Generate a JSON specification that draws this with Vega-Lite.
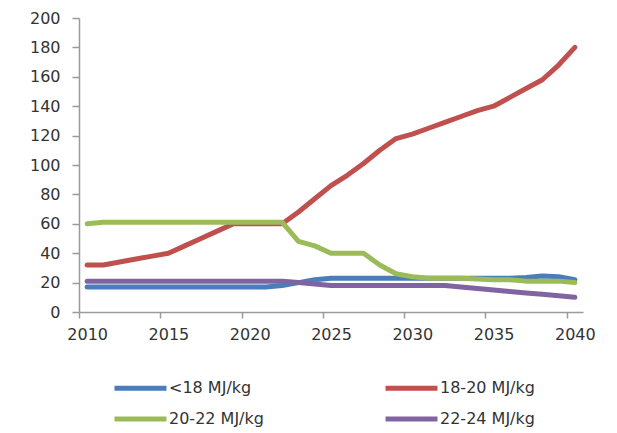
{
  "$schema": "https://vega.github.io/schema/vega-lite/v6.json",
  "autosize": "none",
  "width": 504,
  "height": 294,
  "padding": {"left": 79, "top": 18, "right": 34, "bottom": 121},
  "background": "white",
  "config": {
    "view": {"stroke": null},
    "font": "DejaVu Sans",
    "axis": {"labelFont": "DejaVu Sans", "labelFontSize": 16, "labelColor": "#333333", "domainColor": "#9a9a9a", "tickColor": "#9a9a9a", "domainWidth": 1.5, "tickWidth": 1.5, "grid": false, "title": null}
  },
  "data": {"values": [
    {"year": 2010, "s": "<18 MJ/kg", "v": 17}, {"year": 2011, "s": "<18 MJ/kg", "v": 17}, {"year": 2012, "s": "<18 MJ/kg", "v": 17}, {"year": 2013, "s": "<18 MJ/kg", "v": 17}, {"year": 2014, "s": "<18 MJ/kg", "v": 17}, {"year": 2015, "s": "<18 MJ/kg", "v": 17}, {"year": 2016, "s": "<18 MJ/kg", "v": 17}, {"year": 2017, "s": "<18 MJ/kg", "v": 17}, {"year": 2018, "s": "<18 MJ/kg", "v": 17}, {"year": 2019, "s": "<18 MJ/kg", "v": 17}, {"year": 2020, "s": "<18 MJ/kg", "v": 17}, {"year": 2021, "s": "<18 MJ/kg", "v": 17}, {"year": 2022, "s": "<18 MJ/kg", "v": 18}, {"year": 2023, "s": "<18 MJ/kg", "v": 20}, {"year": 2024, "s": "<18 MJ/kg", "v": 22}, {"year": 2025, "s": "<18 MJ/kg", "v": 23}, {"year": 2026, "s": "<18 MJ/kg", "v": 23}, {"year": 2027, "s": "<18 MJ/kg", "v": 23}, {"year": 2028, "s": "<18 MJ/kg", "v": 23}, {"year": 2029, "s": "<18 MJ/kg", "v": 23}, {"year": 2030, "s": "<18 MJ/kg", "v": 23}, {"year": 2031, "s": "<18 MJ/kg", "v": 23}, {"year": 2032, "s": "<18 MJ/kg", "v": 23}, {"year": 2033, "s": "<18 MJ/kg", "v": 23}, {"year": 2034, "s": "<18 MJ/kg", "v": 23}, {"year": 2035, "s": "<18 MJ/kg", "v": 23}, {"year": 2036, "s": "<18 MJ/kg", "v": 23}, {"year": 2037, "s": "<18 MJ/kg", "v": 23.5}, {"year": 2038, "s": "<18 MJ/kg", "v": 24.5}, {"year": 2039, "s": "<18 MJ/kg", "v": 24}, {"year": 2040, "s": "<18 MJ/kg", "v": 22},
    {"year": 2010, "s": "18-20 MJ/kg", "v": 32}, {"year": 2011, "s": "18-20 MJ/kg", "v": 32}, {"year": 2012, "s": "18-20 MJ/kg", "v": 34}, {"year": 2013, "s": "18-20 MJ/kg", "v": 36}, {"year": 2014, "s": "18-20 MJ/kg", "v": 38}, {"year": 2015, "s": "18-20 MJ/kg", "v": 40}, {"year": 2016, "s": "18-20 MJ/kg", "v": 45}, {"year": 2017, "s": "18-20 MJ/kg", "v": 50}, {"year": 2018, "s": "18-20 MJ/kg", "v": 55}, {"year": 2019, "s": "18-20 MJ/kg", "v": 60}, {"year": 2020, "s": "18-20 MJ/kg", "v": 60}, {"year": 2021, "s": "18-20 MJ/kg", "v": 60}, {"year": 2022, "s": "18-20 MJ/kg", "v": 60}, {"year": 2023, "s": "18-20 MJ/kg", "v": 68}, {"year": 2024, "s": "18-20 MJ/kg", "v": 77}, {"year": 2025, "s": "18-20 MJ/kg", "v": 86}, {"year": 2026, "s": "18-20 MJ/kg", "v": 93}, {"year": 2027, "s": "18-20 MJ/kg", "v": 101}, {"year": 2028, "s": "18-20 MJ/kg", "v": 110}, {"year": 2029, "s": "18-20 MJ/kg", "v": 118}, {"year": 2030, "s": "18-20 MJ/kg", "v": 121}, {"year": 2031, "s": "18-20 MJ/kg", "v": 125}, {"year": 2032, "s": "18-20 MJ/kg", "v": 129}, {"year": 2033, "s": "18-20 MJ/kg", "v": 133}, {"year": 2034, "s": "18-20 MJ/kg", "v": 137}, {"year": 2035, "s": "18-20 MJ/kg", "v": 140}, {"year": 2036, "s": "18-20 MJ/kg", "v": 146}, {"year": 2037, "s": "18-20 MJ/kg", "v": 152}, {"year": 2038, "s": "18-20 MJ/kg", "v": 158}, {"year": 2039, "s": "18-20 MJ/kg", "v": 168}, {"year": 2040, "s": "18-20 MJ/kg", "v": 180},
    {"year": 2010, "s": "20-22 MJ/kg", "v": 60}, {"year": 2011, "s": "20-22 MJ/kg", "v": 61}, {"year": 2012, "s": "20-22 MJ/kg", "v": 61}, {"year": 2013, "s": "20-22 MJ/kg", "v": 61}, {"year": 2014, "s": "20-22 MJ/kg", "v": 61}, {"year": 2015, "s": "20-22 MJ/kg", "v": 61}, {"year": 2016, "s": "20-22 MJ/kg", "v": 61}, {"year": 2017, "s": "20-22 MJ/kg", "v": 61}, {"year": 2018, "s": "20-22 MJ/kg", "v": 61}, {"year": 2019, "s": "20-22 MJ/kg", "v": 61}, {"year": 2020, "s": "20-22 MJ/kg", "v": 61}, {"year": 2021, "s": "20-22 MJ/kg", "v": 61}, {"year": 2022, "s": "20-22 MJ/kg", "v": 61}, {"year": 2023, "s": "20-22 MJ/kg", "v": 48}, {"year": 2024, "s": "20-22 MJ/kg", "v": 45}, {"year": 2025, "s": "20-22 MJ/kg", "v": 40}, {"year": 2026, "s": "20-22 MJ/kg", "v": 40}, {"year": 2027, "s": "20-22 MJ/kg", "v": 40}, {"year": 2028, "s": "20-22 MJ/kg", "v": 32}, {"year": 2029, "s": "20-22 MJ/kg", "v": 26}, {"year": 2030, "s": "20-22 MJ/kg", "v": 24}, {"year": 2031, "s": "20-22 MJ/kg", "v": 23}, {"year": 2032, "s": "20-22 MJ/kg", "v": 23}, {"year": 2033, "s": "20-22 MJ/kg", "v": 23}, {"year": 2034, "s": "20-22 MJ/kg", "v": 22.5}, {"year": 2035, "s": "20-22 MJ/kg", "v": 22}, {"year": 2036, "s": "20-22 MJ/kg", "v": 22}, {"year": 2037, "s": "20-22 MJ/kg", "v": 21}, {"year": 2038, "s": "20-22 MJ/kg", "v": 21}, {"year": 2039, "s": "20-22 MJ/kg", "v": 21}, {"year": 2040, "s": "20-22 MJ/kg", "v": 20},
    {"year": 2010, "s": "22-24 MJ/kg", "v": 21}, {"year": 2011, "s": "22-24 MJ/kg", "v": 21}, {"year": 2012, "s": "22-24 MJ/kg", "v": 21}, {"year": 2013, "s": "22-24 MJ/kg", "v": 21}, {"year": 2014, "s": "22-24 MJ/kg", "v": 21}, {"year": 2015, "s": "22-24 MJ/kg", "v": 21}, {"year": 2016, "s": "22-24 MJ/kg", "v": 21}, {"year": 2017, "s": "22-24 MJ/kg", "v": 21}, {"year": 2018, "s": "22-24 MJ/kg", "v": 21}, {"year": 2019, "s": "22-24 MJ/kg", "v": 21}, {"year": 2020, "s": "22-24 MJ/kg", "v": 21}, {"year": 2021, "s": "22-24 MJ/kg", "v": 21}, {"year": 2022, "s": "22-24 MJ/kg", "v": 21}, {"year": 2023, "s": "22-24 MJ/kg", "v": 20}, {"year": 2024, "s": "22-24 MJ/kg", "v": 19}, {"year": 2025, "s": "22-24 MJ/kg", "v": 18}, {"year": 2026, "s": "22-24 MJ/kg", "v": 18}, {"year": 2027, "s": "22-24 MJ/kg", "v": 18}, {"year": 2028, "s": "22-24 MJ/kg", "v": 18}, {"year": 2029, "s": "22-24 MJ/kg", "v": 18}, {"year": 2030, "s": "22-24 MJ/kg", "v": 18}, {"year": 2031, "s": "22-24 MJ/kg", "v": 18}, {"year": 2032, "s": "22-24 MJ/kg", "v": 18}, {"year": 2033, "s": "22-24 MJ/kg", "v": 17}, {"year": 2034, "s": "22-24 MJ/kg", "v": 16}, {"year": 2035, "s": "22-24 MJ/kg", "v": 15}, {"year": 2036, "s": "22-24 MJ/kg", "v": 14}, {"year": 2037, "s": "22-24 MJ/kg", "v": 13}, {"year": 2038, "s": "22-24 MJ/kg", "v": 12}, {"year": 2039, "s": "22-24 MJ/kg", "v": 11}, {"year": 2040, "s": "22-24 MJ/kg", "v": 10}
  ]},
  "mark": {"type": "line", "strokeWidth": 5, "strokeCap": "round", "strokeJoin": "round"},
  "encoding": {
    "x": {"field": "year", "type": "quantitative", "scale": {"domain": [2009.5, 2040.5], "nice": false, "zero": false},
      "axis": {"values": [2010, 2015, 2020, 2025, 2030, 2035, 2040], "format": "d", "tickSize": 6, "tickOffset": -8.13, "labelOffset": 8.13, "labelPadding": 8}},
    "y": {"field": "v", "type": "quantitative", "scale": {"domain": [0, 200], "nice": false},
      "axis": {"values": [0, 20, 40, 60, 80, 100, 120, 140, 160, 180, 200], "tickSize": 7, "labelPadding": 12}},
    "color": {"field": "s", "type": "nominal",
      "scale": {"domain": ["<18 MJ/kg", "18-20 MJ/kg", "20-22 MJ/kg", "22-24 MJ/kg"], "range": ["#4a7ebb", "#c0504d", "#9bbb59", "#8064a2"]},
      "legend": {"orient": "none", "legendX": 41, "legendY": 349.5, "columns": 2, "direction": "horizontal", "title": null, "padding": 0,
        "symbolType": "M-1.444,0H1.444", "symbolSize": 1296, "symbolStrokeWidth": 5, "symbolStrokeCap": "round", "labelFont": "DejaVu Sans", "labelFontSize": 16, "labelColor": "#333333", "labelOffset": 8, "columnPadding": 111, "rowPadding": 0, "labelLimit": 200}}
  }
}
